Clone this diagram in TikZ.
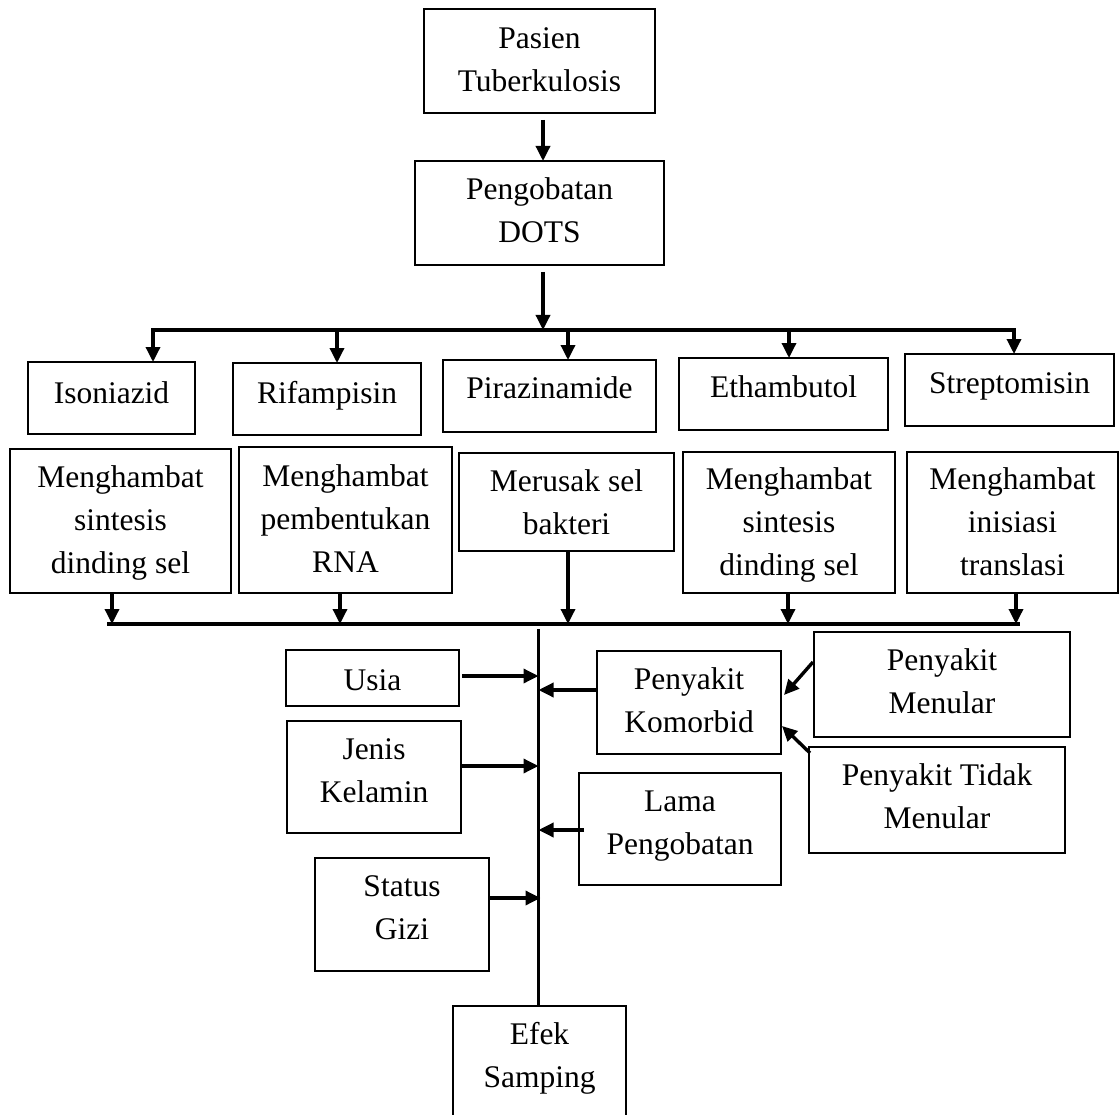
\documentclass[tikz,border=0pt]{standalone}
\usepackage{fontspec}
\setmainfont{Liberation Serif}
\usetikzlibrary{arrows.meta,calc}
\newcommand\mys{\strut}
\newcommand\bx[7]{%
  \node[box, minimum width={#4-#2}, minimum height={#5-#3}] (#1) at ({(#2+#4)/2},{(#3+#5)/2}) {};
  \node[txt] (#1t) at ({(#2+#4)/2},#6) {#7};}
\begin{document}
\begin{tikzpicture}[x=1pt,y=-1pt,
  box/.style={draw, line width=1.5pt, inner sep=0pt, outer sep=0pt},
  txt/.style={inner sep=0pt, align=center, font=\fontsize{31.5}{43}\selectfont},
  arr/.style={line width=3.4pt, -{Triangle[length=15pt,width=14pt]}},
  bus/.style={line width=3.4pt}]
\useasboundingbox (0,0) rectangle (1119,1115);
\fill[white] (0,0) rectangle (1119,1115);
\clip (0,0) rectangle (1119,1115);

% boxes
\bx{pasien}{424}{9}{655}{113}{61.4}{\mys Pasien\\\mys Tuberkulosis}
\bx{dots}{415}{161}{664}{265}{212.4}{\mys Pengobatan\\\mys DOTS}
\bx{iso}{28}{362}{195}{434}{394.4}{\mys Isoniazid}
\bx{rif}{233}{363}{421}{435}{394.4}{\mys Rifampisin}
\bx{pir}{443}{360}{656}{432}{389.4}{\mys Pirazinamide}
\bx{eth}{679}{358}{888}{430}{388.7}{\mys Ethambutol}
\bx{str}{905}{354}{1114}{426}{384.7}{\mys Streptomisin}
\bx{ma}{10}{449}{231}{593}{521.4}{\mys Menghambat\\\mys sintesis\\\mys dinding sel}
\bx{mb}{239}{447}{452}{593}{521}{\mys Menghambat\\\mys pembentukan\\\mys RNA}
\bx{mc}{459}{453}{674}{551}{504}{\mys Merusak sel\\\mys bakteri}
\bx{md}{683}{452}{895}{593}{524}{\mys Menghambat\\\mys sintesis\\\mys dinding sel}
\bx{me}{907}{452}{1118}{593}{524}{\mys Menghambat\\\mys inisiasi\\\mys translasi}
\bx{usia}{286}{650}{459}{706}{681.4}{\mys Usia}
\bx{kom}{597}{651}{781}{754}{702.4}{\mys Penyakit\\\mys Komorbid}
\bx{jenis}{287}{721}{461}{833}{772}{\mys Jenis\\\mys Kelamin}
\bx{lama}{579}{773}{781}{885}{824.5}{\mys Lama\\\mys Pengobatan}
\bx{status}{315}{858}{489}{971}{909.4}{\mys Status\\\mys Gizi}
\bx{efek}{453}{1006}{626}{1135}{1057.4}{\mys Efek\\\mys Samping}
\bx{menular}{814}{632}{1070}{737}{683.4}{\mys Penyakit\\\mys Menular}
\bx{tidak}{809}{747}{1065}{853}{798.4}{\mys Penyakit Tidak\\\mys Menular}

% top part
\coordinate (t1) at (543,330);
\draw[arr] ($(pasien.south -| t1)+(0,7)$) -- (dots.north -| t1);
\draw[arr] ($(dots.south -| t1)+(0,7)$) -- (t1);

% upper bus
\coordinate (b1) at (153,330);
\coordinate (b2) at (337,330);
\coordinate (b3) at (568,330);
\coordinate (b4) at (789,330);
\coordinate (b5) at (1014,330);
\draw[bus] ($(b1)+(-1.7,0)$) -- ($(b5)+(1.7,0)$);
\draw[arr] (b1) -- (b1 |- iso.north);
\draw[arr] (b2) -- (b2 |- rif.north);
\draw[arr] (b3) -- (b3 |- pir.north);
\draw[arr] (b4) -- (b4 |- eth.north);
\draw[arr] (b5) -- (b5 |- str.north);

% lower bus
\coordinate (c1) at (112,624);
\coordinate (c2) at (340,624);
\coordinate (c3) at (568,624);
\coordinate (c4) at (788,624);
\coordinate (c5) at (1016,624);
\draw[bus] (107,624) -- (1020,624);
\draw[arr] (ma.south -| c1) -- (c1);
\draw[arr] (mb.south -| c2) -- (c2);
\draw[arr] (mc.south -| c3) -- (c3);
\draw[arr] (md.south -| c4) -- (c4);
\draw[arr] (me.south -| c5) -- (c5);

% trunk
\coordinate (v0) at (538.5,629);
\draw[bus] (v0) -- (efek.north -| v0);

% side factors
\coordinate (ua) at ($(usia.east)+(3,-2)$);
\draw[arr] (ua) -- (ua -| v0);
\coordinate (ka) at ($(kom.west)+(0,-12.5)$);
\draw[arr] (ka) -- (ka -| v0);
\coordinate (ja) at ($(jenis.east)+(1,-11)$);
\draw[arr] (ja) -- (ja -| v0);
\coordinate (la) at ($(lama.west)+(5,1)$);
\draw[arr] (la) -- (la -| v0);
\coordinate (sa) at ($(status.east)+(0,-16.5)$);
\draw[arr] (sa) -- ($(sa -| v0)+(2,0)$);

% comorbid sources
\draw[arr] ($(menular.west)+(-1,-22.5)$) -- ($(kom.east)+(3,-7.5)$);
\draw[arr] ($(tidak.north west)+(1,6)$) -- ($(kom.east)+(1,23.5)$);
\end{tikzpicture}
\end{document}
